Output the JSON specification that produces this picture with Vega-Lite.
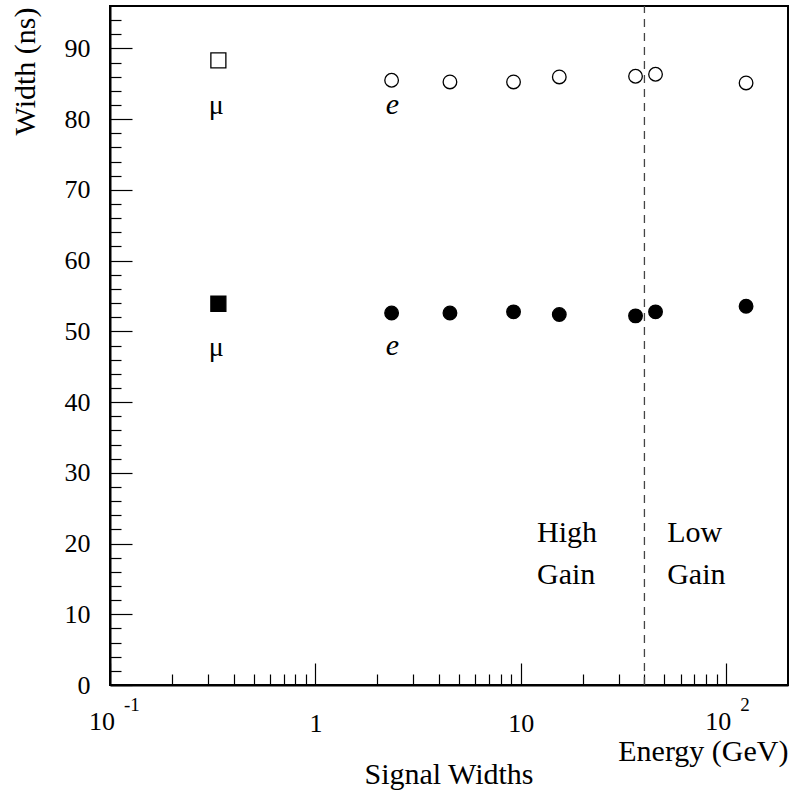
{
  "$schema": "https://vega.github.io/schema/vega-lite/v6.json",
  "width": 678,
  "height": 679,
  "autosize": {"type": "none"},
  "padding": {"left": 110, "top": 6, "right": 3, "bottom": 106},
  "background": "white",
  "config": {
    "font": "Liberation Serif",
    "view": {"stroke": "#000", "strokeWidth": 2}
  },
  "title": {
    "text": "Signal Widths",
    "orient": "bottom",
    "anchor": "middle",
    "baseline": "alphabetic",
    "fontSize": 30,
    "fontWeight": "normal",
    "color": "#000",
    "offset": 18
  },
  "datasets": {
    "widths": [
      {"energy": 0.337, "width": 88.3, "particle": "mu", "series": "S1"},
      {"energy": 2.35, "width": 85.5, "particle": "e", "series": "S1"},
      {"energy": 4.52, "width": 85.26, "particle": "e", "series": "S1"},
      {"energy": 9.22, "width": 85.26, "particle": "e", "series": "S1"},
      {"energy": 15.4, "width": 85.97, "particle": "e", "series": "S1"},
      {"energy": 36.2, "width": 86.07, "particle": "e", "series": "S1"},
      {"energy": 45.3, "width": 86.35, "particle": "e", "series": "S1"},
      {"energy": 125, "width": 85.12, "particle": "e", "series": "S1"},
      {"energy": 0.337, "width": 53.9, "particle": "mu", "series": "S2"},
      {"energy": 2.35, "width": 52.6, "particle": "e", "series": "S2"},
      {"energy": 4.52, "width": 52.6, "particle": "e", "series": "S2"},
      {"energy": 9.22, "width": 52.76, "particle": "e", "series": "S2"},
      {"energy": 15.4, "width": 52.39, "particle": "e", "series": "S2"},
      {"energy": 36.2, "width": 52.19, "particle": "e", "series": "S2"},
      {"energy": 45.3, "width": 52.76, "particle": "e", "series": "S2"},
      {"energy": 125, "width": 53.56, "particle": "e", "series": "S2"}
    ],
    "gainBoundary": [
      {"energy": 40, "low": 0, "high": 96}
    ],
    "muLabels": [
      {"energy": 0.329, "width": 81.8, "text": "μ"},
      {"energy": 0.329, "width": 47.6, "text": "μ"}
    ],
    "eLabels": [
      {"energy": 2.37, "width": 82.0, "text": "e"},
      {"energy": 2.37, "width": 48.0, "text": "e"}
    ],
    "gainLabels": [
      {"energy": 12.0, "width": 21.5, "text": "High"},
      {"energy": 12.0, "width": 15.5, "text": "Gain"},
      {"energy": 51.6, "width": 21.5, "text": "Low"},
      {"energy": 51.6, "width": 15.5, "text": "Gain"}
    ],
    "powerLabels": [
      {"energy": 0.1, "width": 0, "base": "10", "exponent": "-1"},
      {"energy": 100, "width": 0, "base": "10", "exponent": "2"}
    ]
  },
  "resolve": {"axis": {"x": "independent", "y": "independent"}},
  "layer": [
    {
      "data": {"name": "widths"},
      "mark": {"type": "point", "filled": true, "stroke": "#000", "strokeWidth": 1.3, "opacity": 1},
      "encoding": {
        "x": {
          "field": "energy",
          "type": "quantitative",
          "scale": {"type": "log", "domain": [0.1, 200], "nice": false},
          "axis": {
            "orient": "bottom",
            "title": "Energy (GeV)",
            "titleFont": "Liberation Serif",
            "titleFontSize": 30,
            "titleFontWeight": "normal",
            "titleColor": "#000",
            "titleAnchor": "end",
            "titleAlign": "right",
            "titleBaseline": "alphabetic",
            "titleX": 678,
            "titleY": 75,
            "values": [0.1, 1, 10, 100],
            "tickSize": -22,
            "tickColor": "#000",
            "tickWidth": 1.2,
            "domainColor": "#000",
            "domainWidth": 2,
            "grid": false,
            "labelExpr": "datum.value === 1 ? '1' : (datum.value === 10 ? '10' : '')",
            "labelFont": "Liberation Serif",
            "labelFontSize": 26,
            "labelColor": "#000",
            "labelPadding": 47,
            "labelFlush": false,
            "labelOverlap": false,
            "labelBound": false
          }
        },
        "y": {
          "field": "width",
          "type": "quantitative",
          "scale": {"domain": [0, 96], "nice": false, "zero": false},
          "axis": {
            "orient": "left",
            "title": "Width (ns)",
            "titleFont": "Liberation Serif",
            "titleFontSize": 30,
            "titleFontWeight": "normal",
            "titleColor": "#000",
            "titleAngle": -90,
            "titleAlign": "right",
            "titleBaseline": "middle",
            "titleX": -85,
            "titleY": 1,
            "values": [0, 10, 20, 30, 40, 50, 60, 70, 80, 90],
            "tickSize": -22,
            "tickColor": "#000",
            "tickWidth": 1.2,
            "domainColor": "#000",
            "domainWidth": 2,
            "grid": false,
            "labelFont": "Liberation Serif",
            "labelFontSize": 26,
            "labelColor": "#000",
            "labelPadding": 42,
            "labelFlush": false,
            "labelOverlap": false,
            "labelBound": false
          }
        },
        "shape": {
          "field": "particle",
          "type": "nominal",
          "scale": {"domain": ["mu", "e"], "range": ["square", "circle"]},
          "legend": null
        },
        "size": {
          "field": "particle",
          "type": "nominal",
          "scale": {"domain": ["mu", "e"], "range": [225, 185]},
          "legend": null
        },
        "fill": {
          "field": "series",
          "type": "nominal",
          "scale": {"domain": ["S1", "S2"], "range": ["#ffffff", "#000000"]},
          "legend": null
        }
      }
    },
    {
      "data": {"name": "gainBoundary"},
      "mark": {"type": "rule", "stroke": "#444", "strokeWidth": 1.3, "strokeDash": [8, 6]},
      "encoding": {
        "x": {
          "field": "energy",
          "type": "quantitative",
          "scale": {"type": "log", "domain": [0.1, 200], "nice": false},
          "axis": {
            "orient": "bottom",
            "title": null,
            "values": [0.2, 0.3, 0.4, 0.5, 0.6, 0.7, 0.8, 0.9, 2, 3, 4, 5, 6, 7, 8, 9, 20, 30, 40, 50, 60, 70, 80, 90],
            "tickSize": -11,
            "tickColor": "#000",
            "tickWidth": 1.2,
            "domain": false,
            "grid": false,
            "labels": false
          }
        },
        "y": {
          "field": "low",
          "type": "quantitative",
          "scale": {"domain": [0, 96], "nice": false, "zero": false},
          "axis": {
            "orient": "left",
            "title": null,
            "values": [2, 4, 6, 8, 12, 14, 16, 18, 22, 24, 26, 28, 32, 34, 36, 38, 42, 44, 46, 48, 52, 54, 56, 58, 62, 64, 66, 68, 72, 74, 76, 78, 82, 84, 86, 88, 92, 94],
            "tickSize": -11,
            "tickColor": "#000",
            "tickWidth": 1.2,
            "domain": false,
            "grid": false,
            "labels": false
          }
        },
        "y2": {"field": "high"}
      }
    },
    {
      "data": {"name": "muLabels"},
      "mark": {"type": "text", "font": "Liberation Serif", "fontSize": 28, "align": "center", "baseline": "middle", "color": "#000"},
      "encoding": {
        "x": {"field": "energy", "type": "quantitative", "axis": null},
        "y": {"field": "width", "type": "quantitative", "axis": null},
        "text": {"field": "text"}
      }
    },
    {
      "data": {"name": "eLabels"},
      "mark": {"type": "text", "font": "Liberation Serif", "fontSize": 30, "fontStyle": "italic", "align": "center", "baseline": "middle", "color": "#000"},
      "encoding": {
        "x": {"field": "energy", "type": "quantitative", "axis": null},
        "y": {"field": "width", "type": "quantitative", "axis": null},
        "text": {"field": "text"}
      }
    },
    {
      "data": {"name": "gainLabels"},
      "mark": {"type": "text", "font": "Liberation Serif", "fontSize": 30, "align": "left", "baseline": "middle", "color": "#000"},
      "encoding": {
        "x": {"field": "energy", "type": "quantitative", "axis": null},
        "y": {"field": "width", "type": "quantitative", "axis": null},
        "text": {"field": "text"}
      }
    },
    {
      "data": {"name": "powerLabels"},
      "mark": {"type": "text", "font": "Liberation Serif", "fontSize": 26, "align": "center", "baseline": "top", "color": "#000", "dx": -8, "dy": 24},
      "encoding": {
        "x": {"field": "energy", "type": "quantitative", "axis": null},
        "y": {"field": "width", "type": "quantitative", "axis": null},
        "text": {"field": "base"}
      }
    },
    {
      "data": {"name": "powerLabels"},
      "mark": {"type": "text", "font": "Liberation Serif", "fontSize": 19, "align": "left", "baseline": "middle", "color": "#000", "dx": 14, "dy": 20},
      "encoding": {
        "x": {"field": "energy", "type": "quantitative", "axis": null},
        "y": {"field": "width", "type": "quantitative", "axis": null},
        "text": {"field": "exponent"}
      }
    }
  ]
}
